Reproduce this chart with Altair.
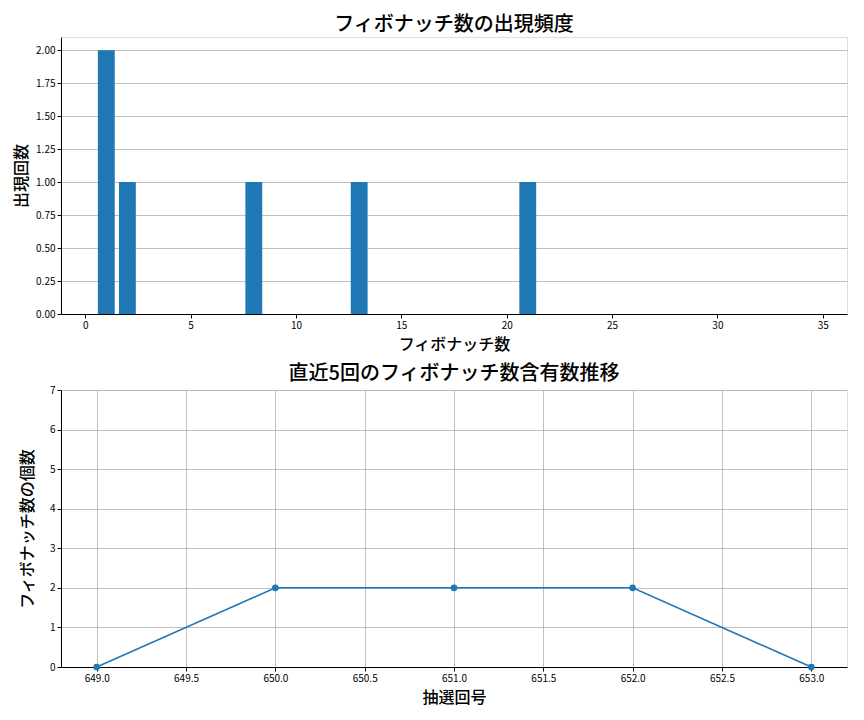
import altair as alt
import pandas as pd

# top chart: frequency of Fibonacci numbers
fib_numbers = [1, 2, 8, 13, 21]
fib_counts = [2, 1, 1, 1, 1]

# bottom chart: count of Fibonacci numbers in the last 5 draws
draw_ids = [649, 650, 651, 652, 653]
fib_per_draw = [0, 2, 2, 2, 0]

FONT = "Noto Sans CJK JP"
BLUE = "#1f77b4"
GRID = "#b0b0b0"

freq = pd.DataFrame({"number": fib_numbers, "count": fib_counts})
trend = pd.DataFrame({"draw": draw_ids, "fibs": fib_per_draw})

axis_common = dict(
    labelFont=FONT, titleFont=FONT, labelFontSize=10, titleFontSize=16,
    titleFontWeight=500, titleColor="black", labelColor="black",
    tickColor="black", tickSize=4, domainColor="black",
    gridColor=GRID, gridWidth=0.8,
)


def frequency_bar_chart(selection: pd.DataFrame) -> alt.Chart:
    """Bar chart of how often each Fibonacci number appeared"""

    base = alt.Chart(selection).transform_calculate(
        left="datum.number - 0.4",
        right="datum.number + 0.4",
        bottom="0",
    )

    bars = base.mark_bar(color=BLUE).encode(
        x=alt.X("left:Q", title="フィボナッチ数",
                scale=alt.Scale(domain=[-1.15, 36.15], nice=False, zero=False),
                axis=alt.Axis(values=[0, 5, 10, 15, 20, 25, 30, 35], grid=False,
                              titlePadding=6, **axis_common)),
        x2="right:Q",
        y=alt.Y("count:Q", title="出現回数",
                scale=alt.Scale(domain=[0, 2.1], nice=False),
                axis=alt.Axis(values=[0, 0.25, 0.5, 0.75, 1, 1.25, 1.5, 1.75, 2],
                              format=".2f", grid=True, titlePadding=6, **axis_common)),
        y2="bottom:Q",
    )

    return bars.properties(
        width=786, height=277,
        title=alt.TitleParams("フィボナッチ数の出現頻度", font=FONT, fontSize=20,
                              fontWeight=500, offset=2),
    )


def trend_line_chart(selection: pd.DataFrame) -> alt.Chart:
    """Line chart of Fibonacci count per draw"""

    line = alt.Chart(selection).mark_line(
        color=BLUE, strokeWidth=1.5,
        point=alt.OverlayMarkDef(color=BLUE, size=45, filled=True, opacity=1),
    ).encode(
        x=alt.X("draw:Q", title="抽選回号",
                scale=alt.Scale(domain=[648.8, 653.2], nice=False, zero=False),
                axis=alt.Axis(values=[649, 649.5, 650, 650.5, 651, 651.5, 652, 652.5, 653],
                              format=".1f", grid=True, titlePadding=6, **axis_common)),
        y=alt.Y("fibs:Q", title="フィボナッチ数の個数",
                scale=alt.Scale(domain=[0, 7], nice=False),
                axis=alt.Axis(values=[0, 1, 2, 3, 4, 5, 6, 7], grid=True,
                              titlePadding=14, **axis_common)),
    )

    return line.properties(
        width=786, height=277,
        title=alt.TitleParams("直近5回のフィボナッチ数含有数推移", font=FONT, fontSize=20,
                              fontWeight=500, offset=1),
    )


chart = alt.vconcat(
    frequency_bar_chart(freq),
    trend_line_chart(trend),
    spacing=10,
).configure_view(
    stroke="black", strokeWidth=1,
).configure(
    background="white", padding={"left": 5, "top": 6, "right": 5, "bottom": 2},
)

chart.save("out.html", embed_options={"renderer": "svg", "actions": False})
